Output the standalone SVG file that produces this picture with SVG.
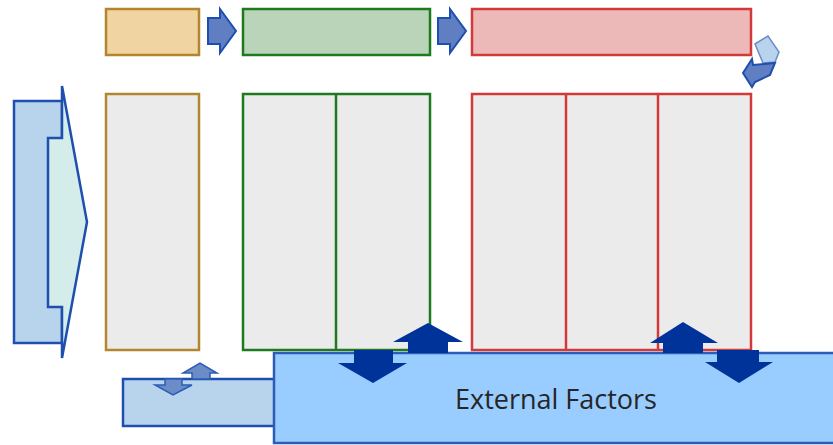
<svg xmlns="http://www.w3.org/2000/svg" width="833" height="445" viewBox="0 0 833 445">
<style>
.tan{fill:#f0d5a2;stroke:#b3862e;stroke-width:2.5}
.grn{fill:#b9d4b9;stroke:#1f7a1f;stroke-width:2.5}
.red{fill:#ecb8b8;stroke:#d23a3a;stroke-width:2.5}
.tanB{fill:#ebebeb;stroke:#b3862e;stroke-width:2.5}
.grnB{fill:#ebebeb;stroke:#1f7a1f;stroke-width:2.5}
.redB{fill:#ebebeb;stroke:#d23a3a;stroke-width:2.5}
.grnL{stroke:#1f7a1f;stroke-width:2.5}
.redL{stroke:#d23a3a;stroke-width:2.5}
.blk{fill:#b8d3ec;stroke:#1f4fae;stroke-width:2.5;stroke-linejoin:miter}
.cyan{fill:#d4ecea;stroke:#1f4fae;stroke-width:2.5;stroke-linejoin:miter}
.flow{fill:#5f7fc2;stroke:#1f4fae;stroke-width:2}
.big{fill:#99ccff;stroke:#2a5cb8;stroke-width:2.5}
.nav{fill:#003399}
.sm{fill:#6c8cc6;stroke:#2a5cb8;stroke-width:1.5}
.lbl{font-family:"Open Sans","Liberation Sans",sans-serif;font-size:27px;fill:#262626}
</style>
<g id="side-arrow">
<rect class="blk" x="14" y="101" width="48" height="242"/>
<polygon class="cyan" points="62,86 87,222 62,358 62,307 48,307 48,138 62,138"/>
</g>
<g id="top-tan"><rect class="tan" x="106" y="9" width="93" height="46"/></g>
<g id="top-green"><rect class="grn" x="243" y="9" width="187" height="46"/></g>
<g id="top-red"><rect class="red" x="472" y="9" width="279" height="46"/></g>
<g id="col-tan"><rect class="tanB" x="106" y="94" width="93" height="256"/></g>
<g id="col-green"><rect class="grnB" x="243" y="94" width="187" height="256"/><line class="grnL" x1="336" y1="94" x2="336" y2="350"/></g>
<g id="col-red"><rect class="redB" x="472" y="94" width="279" height="256"/><line class="redL" x1="566" y1="94" x2="566" y2="350"/><line class="redL" x1="658" y1="94" x2="658" y2="350"/></g>
<g id="connectors">
<polygon class="flow" points="208,18 220,18 220,9 236,31 220,53 220,44 208,44"/>
<polygon class="flow" points="438,18 450,18 450,9 466,31 450,53 450,44 438,44"/>
<polygon fill="#b8d3ec" stroke="#6c8cc6" stroke-width="1.5" points="755,44 768,36 779,52 775,62 763,63"/>
<polygon class="flow" points="752,59 753,65 775,63 770,75 755,82 752,87 743,73"/>
</g>
<g id="small-box">
<rect class="blk" x="123" y="379" width="170" height="47"/>
<polygon class="sm" points="192,379 192,373 183,373 200,363 217,373 210,373 210,379"/>
<polygon class="sm" points="165,379 165,385 155,385 173,395 192,385 182,385 182,379"/>
</g>
<g id="external-factors">
<rect class="big" x="274" y="353" width="570" height="90"/>
<text class="lbl" x="556" y="409" text-anchor="middle">External Factors</text>
</g>
<g id="io-arrows">
<polygon class="nav" points="354,350 393,350 393,363 407,363 373,383 338,363 354,363"/>
<polygon class="nav" points="408,353 408,342 393,342 428,323 463,342 448,342 448,353"/>
<polygon class="nav" points="663,353 663,343 650,343 683,322 718,343 703,343 703,353"/>
<polygon class="nav" points="717,350 759,350 759,362 773,362 739,383 705,362 717,362"/>
</g>
</svg>
